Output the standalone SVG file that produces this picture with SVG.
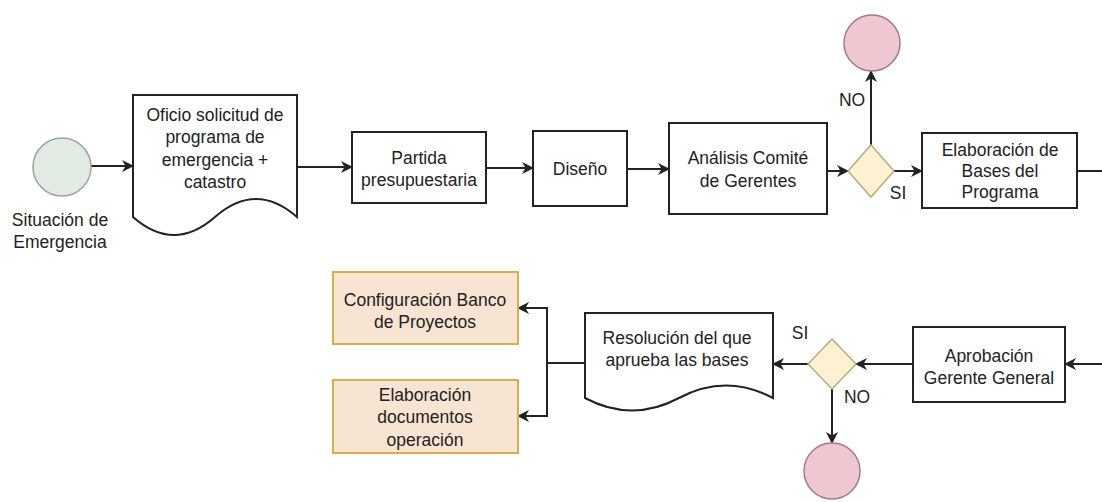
<svg xmlns="http://www.w3.org/2000/svg" width="1102" height="502" viewBox="0 0 1102 502">
<style>
.t{font-family:"Liberation Sans",Arial,sans-serif;font-size:17.5px;fill:#222;text-anchor:middle}
.box{fill:#fff;stroke:#222;stroke-width:2}
.org{fill:#f7e4d3;stroke:#d2b04e;stroke-width:2}
.ln{fill:none;stroke:#222;stroke-width:2}
.dia{fill:#fcf2d2;stroke:#b9ab80;stroke-width:1.5}
.endc{fill:#efc7d1;stroke:#a27a86;stroke-width:1.5}
</style>
<defs>
<marker id="ar" markerUnits="userSpaceOnUse" markerWidth="12" markerHeight="12" viewBox="0 0 12 12" refX="11" refY="6" orient="auto">
<path d="M0,0 L12,6 L0,12 L3.5,6 Z" fill="#222"/>
</marker>
</defs>
<rect width="1102" height="502" fill="#fff"/>
<g id="connectors">
<path class="ln" d="M91,166 H133" marker-end="url(#ar)"/>
<path class="ln" d="M297,167 H352" marker-end="url(#ar)"/>
<path class="ln" d="M486,168 H533" marker-end="url(#ar)"/>
<path class="ln" d="M627,169 H669" marker-end="url(#ar)"/>
<path class="ln" d="M827,171 H848" marker-end="url(#ar)"/>
<path class="ln" d="M871,145 V71" marker-end="url(#ar)"/>
<path class="ln" d="M894,171 H922" marker-end="url(#ar)"/>
<path class="ln" d="M1077,171 H1115 V364 H1065" marker-end="url(#ar)"/>
<path class="ln" d="M913,364 H856" marker-end="url(#ar)"/>
<path class="ln" d="M808,364 H773" marker-end="url(#ar)"/>
<path class="ln" d="M832,389 V443" marker-end="url(#ar)"/>
<path class="ln" d="M585,363 H547 V308 H518" marker-end="url(#ar)"/>
<path class="ln" d="M547,363 V416 H518" marker-end="url(#ar)"/>
<text class="t" x="852" y="106">NO</text>
<text class="t" x="898" y="199">SI</text>
<text class="t" x="800" y="339">SI</text>
<text class="t" x="857" y="403">NO</text>
</g>
<g id="start">
<circle cx="62" cy="167" r="29" fill="#e2eae4" stroke="#9aa39c" stroke-width="1.5"/>
<text class="t" x="60" y="226">Situación de</text>
<text class="t" x="60" y="248">Emergencia</text>
</g>
<g id="oficio">
<path class="box" d="M133,95 H297 V217 Q256,181 215,217 Q174,253 133,217 Z"/>
<text class="t" x="215" y="121">Oficio solicitud de</text>
<text class="t" x="215" y="143">programa de</text>
<text class="t" x="215" y="166">emergencia +</text>
<text class="t" x="215" y="188">catastro</text>
</g>
<g id="partida">
<rect class="box" x="352" y="132" width="134" height="71"/>
<text class="t" x="419" y="164">Partida</text>
<text class="t" x="419" y="186">presupuestaria</text>
</g>
<g id="diseno">
<rect class="box" x="533" y="131" width="94" height="75"/>
<text class="t" x="580" y="175">Diseño</text>
</g>
<g id="analisis">
<rect class="box" x="669" y="123" width="158" height="91"/>
<text class="t" x="748" y="164">Análisis Comité</text>
<text class="t" x="748" y="187">de Gerentes</text>
</g>
<g id="decision1">
<path class="dia" d="M871,145 L894,171 L871,197 L848,171 Z"/>
</g>
<g id="end1">
<circle class="endc" cx="872" cy="43" r="28"/>
</g>
<g id="elaboracion-bases">
<rect class="box" x="922" y="133" width="155" height="75"/>
<text class="t" x="1000" y="156">Elaboración de</text>
<text class="t" x="1000" y="177">Bases del</text>
<text class="t" x="1000" y="198">Programa</text>
</g>
<g id="aprobacion">
<rect class="box" x="913" y="327" width="152" height="75"/>
<text class="t" x="989" y="362">Aprobación</text>
<text class="t" x="989" y="384">Gerente General</text>
</g>
<g id="decision2">
<path class="dia" d="M832,339 L856,364 L832,389 L808,364 Z"/>
</g>
<g id="end2">
<circle class="endc" cx="832" cy="471" r="28"/>
</g>
<g id="resolucion">
<path class="box" d="M585,313 H773 V398 Q726,373 679,398 Q632,423 585,398 Z"/>
<text class="t" x="677" y="344">Resolución del que</text>
<text class="t" x="677" y="366">aprueba las bases</text>
</g>
<g id="config-banco">
<rect class="org" x="333" y="272" width="185" height="72"/>
<text class="t" x="425" y="306">Configuración Banco</text>
<text class="t" x="425" y="328">de Proyectos</text>
</g>
<g id="elaboracion-docs">
<rect class="org" x="333" y="380" width="185" height="73"/>
<text class="t" x="425" y="401">Elaboración</text>
<text class="t" x="425" y="423">documentos</text>
<text class="t" x="425" y="446">operación</text>
</g>
</svg>
